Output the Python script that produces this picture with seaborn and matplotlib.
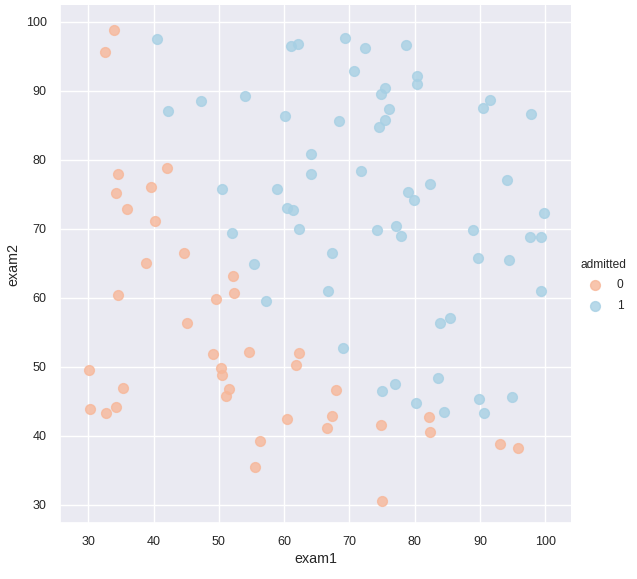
import matplotlib
matplotlib.use("Agg")
import matplotlib.pyplot as plt
import seaborn as sns
import pandas as pd

exam1 = [34.62, 30.29, 35.85, 60.18, 79.03, 45.08, 61.11, 75.02, 76.10, 84.43,
         95.86, 75.01, 82.31, 69.36, 39.54, 53.97, 69.07, 67.95, 70.66, 76.98,
         67.37, 89.68, 50.53, 34.21, 77.92, 62.27, 80.19, 93.11, 61.83, 38.79,
         61.38, 85.40, 52.11, 52.05, 40.24, 54.64, 33.92, 64.18, 74.79, 34.18,
         83.90, 51.55, 94.44, 82.37, 51.05, 62.22, 77.19, 97.77, 62.07, 91.56,
         79.94, 99.27, 90.55, 34.52, 50.29, 49.59, 97.65, 32.58, 74.25, 71.80,
         75.40, 35.29, 56.25, 30.06, 44.67, 66.56, 40.46, 49.07, 80.28, 66.75,
         32.72, 64.04, 72.35, 60.46, 58.84, 99.83, 47.26, 50.46, 60.46, 82.23,
         88.91, 94.83, 67.32, 57.24, 80.37, 68.47, 42.08, 75.48, 78.64, 52.35,
         94.09, 90.45, 55.48, 74.49, 89.85, 83.49, 42.26, 99.32, 55.34, 74.78]
exam2 = [78.02, 43.89, 72.90, 86.31, 75.34, 56.32, 96.51, 46.55, 87.42, 43.53,
         38.23, 30.60, 76.48, 97.72, 76.04, 89.21, 52.74, 46.68, 92.93, 47.58,
         42.84, 65.80, 48.86, 44.21, 68.97, 69.95, 44.82, 38.80, 50.26, 65.00,
         72.81, 57.05, 63.13, 69.43, 71.17, 52.21, 98.87, 80.91, 41.57, 75.24,
         56.31, 46.86, 65.57, 40.62, 45.82, 52.06, 70.46, 86.73, 96.77, 88.70,
         74.16, 61.00, 43.39, 60.40, 49.80, 59.81, 68.86, 95.60, 69.82, 78.45,
         85.76, 47.02, 39.26, 49.59, 66.45, 41.09, 97.54, 51.88, 92.12, 60.99,
         43.31, 78.03, 96.23, 73.09, 75.86, 72.37, 88.48, 75.81, 42.51, 42.72,
         69.80, 45.69, 66.59, 59.51, 90.96, 85.59, 78.84, 90.42, 96.65, 60.77,
         77.16, 87.51, 35.57, 84.85, 45.36, 48.38, 87.10, 68.78, 64.93, 89.53]
admitted = [0, 0, 0, 1, 1, 0, 1, 1, 1, 1,
            0, 0, 1, 1, 0, 1, 1, 0, 1, 1,
            0, 1, 0, 0, 1, 1, 1, 0, 0, 0,
            1, 1, 0, 1, 0, 0, 0, 1, 0, 0,
            1, 0, 1, 0, 0, 0, 1, 1, 1, 1,
            1, 1, 1, 0, 0, 0, 1, 0, 1, 1,
            1, 0, 0, 0, 0, 0, 1, 0, 1, 1,
            0, 1, 1, 1, 1, 1, 1, 1, 0, 0,
            1, 1, 1, 1, 1, 1, 0, 1, 1, 0,
            1, 1, 0, 1, 1, 1, 1, 1, 1, 1]

data = pd.DataFrame({"exam1": exam1, "exam2": exam2, "admitted": admitted})

sns.set_theme(style="darkgrid")
plt.rcParams["font.family"] = ["Liberation Sans", "DejaVu Sans"]
plt.rcParams.update({
    "xtick.labelsize": 9, "ytick.labelsize": 9, "axes.labelsize": 10.3,
    "legend.fontsize": 8.6, "legend.title_fontsize": 8.6,
    "legend.labelspacing": 0.7,
    "text.color": ".15", "axes.labelcolor": ".15",
    "xtick.color": ".15", "ytick.color": ".15",
})

pal = sns.color_palette("RdBu", 2)
g = sns.lmplot(x="exam1", y="exam2", hue="admitted", data=data, height=6,
               palette=pal, fit_reg=False, scatter_kws={"s": 50})
g.set(xlim=(25.66, 103.94), ylim=(27.39, 102.46))
fig = g.figure
fig.set_size_inches(6.37, 5.79)
fig.subplots_adjust(left=60 / 637, right=571 / 637, bottom=56 / 579, top=574 / 579)
g._legend.set_bbox_to_anchor((1.0, 0.5 + 4 / 579), transform=fig.transFigure)
ax = g.ax
ax.xaxis.labelpad = 3
fig.savefig("out.png", dpi=100)
